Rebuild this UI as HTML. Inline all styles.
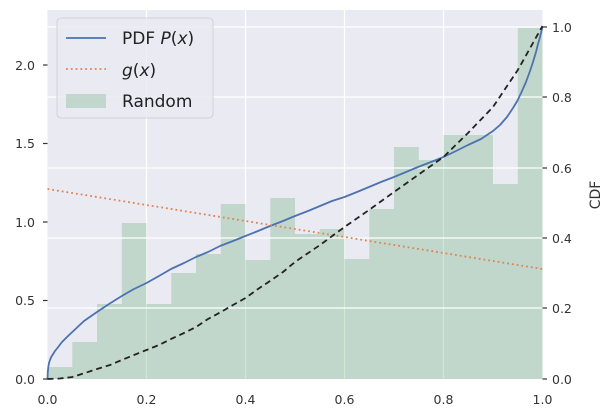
<!DOCTYPE html>
<html><head><meta charset="utf-8"><style>
body{margin:0;background:#fff;}
svg{display:block;font-family:"DejaVu Sans","Liberation Sans",sans-serif;}
</style></head><body>
<svg width="614" height="417" viewBox="0 0 614 417" xmlns="http://www.w3.org/2000/svg">
<rect x="47.5" y="10" width="495" height="369" fill="#eaeaf2"/>
<g stroke="#fff" stroke-width="1.2">
<line x1="146.5" y1="10" x2="146.5" y2="379"/><line x1="245.5" y1="10" x2="245.5" y2="379"/>
<line x1="344.5" y1="10" x2="344.5" y2="379"/><line x1="443.5" y1="10" x2="443.5" y2="379"/>
</g>
<g fill="#55a868" fill-opacity="0.27">
<path d="M47.5,379 V367 H72.3 V342 H97 V304 H121.8 V223 H146.5 V304 H171.3 V273 H196 V254 H220.8 V204 H245.5 V260 H270.3 V198 H295 V234 H319.8 V229 H344.5 V259 H369.3 V209 H394 V147 H418.8 V160 H443.5 V135 H493 V184 H517.8 V28 H542.5 V379 Z"/>
</g>
<g stroke="#fff" stroke-width="1.2">
<line x1="47.5" y1="308" x2="542.5" y2="308"/><line x1="47.5" y1="238" x2="542.5" y2="238"/>
<line x1="47.5" y1="168" x2="542.5" y2="168"/><line x1="47.5" y1="97" x2="542.5" y2="97"/>
<line x1="47.5" y1="27" x2="542.5" y2="27"/>
</g>
<polyline fill="none" stroke="#4c72b0" stroke-width="1.8" stroke-linejoin="round" points="47.5,379 47.8,372 48.3,367 49,363 50,360 51.2,357 52.5,355 55,351 57.4,348 62,342 67,337 72.3,332 84,321 97,312 109,304 121.8,296 134,289 146.5,283 159,276 171,269 184,263 196,257 208,252 220,246 233,241 245.5,236 258,231 270,226 283,221 295,216 308,211 320,206 332,201 344.5,197 357,192 369,187 381,182 394,177 406,172 418,167 431,162 443.5,157 456,151 468,145 481,139 493,131 500,125 507,117 513,108 517.8,100 522,91 526,82 530,71 533,62 536,52 538,44 540,37 541.5,31 542.5,27"/>
<line x1="47.5" y1="189" x2="542.5" y2="269" stroke="#dd8452" stroke-width="1.8" stroke-dasharray="1.8,3"/>
<polyline fill="none" stroke="#222" stroke-width="1.8" stroke-dasharray="6,4" stroke-linejoin="round" points="47.5,379 60,378.5 72.3,377 85,373 97,369 110,365 121.8,360 134,355 146.5,350 159,345 171,339 184,333 196,327 208,319 221,312 233,305 245.5,298 258,289 270,281 283,272 295,262 320,245 344.5,227 369,210 394,192 418,175 443.5,157 468,133 493,107 517.8,70 542.5,26"/>
<g fill="#333" font-size="12.5" text-anchor="end">
<text x="35" y="384">0.0</text><text x="35" y="305">0.5</text><text x="35" y="227">1.0</text>
<text x="35" y="148">1.5</text><text x="35" y="70">2.0</text>
</g>
<g stroke="#333" stroke-width="1.2">
<line x1="542.5" y1="379" x2="547" y2="379"/><line x1="542.5" y1="308" x2="547" y2="308"/>
<line x1="542.5" y1="238" x2="547" y2="238"/><line x1="542.5" y1="168" x2="547" y2="168"/>
<line x1="542.5" y1="97" x2="547" y2="97"/><line x1="542.5" y1="27" x2="547" y2="27"/>
<line x1="43" y1="379" x2="47.5" y2="379"/><line x1="43" y1="300.5" x2="47.5" y2="300.5"/>
<line x1="43" y1="222" x2="47.5" y2="222"/><line x1="43" y1="143.5" x2="47.5" y2="143.5"/>
<line x1="43" y1="65" x2="47.5" y2="65"/>
</g>
<g fill="#333" font-size="12.5">
<text x="552" y="384">0.0</text><text x="552" y="313">0.2</text><text x="552" y="243">0.4</text>
<text x="552" y="173">0.6</text><text x="552" y="102">0.8</text><text x="552" y="32">1.0</text>
</g>
<g fill="#333" font-size="12.5" text-anchor="middle">
<text x="47.5" y="404">0.0</text><text x="146.5" y="404">0.2</text><text x="245.5" y="404">0.4</text>
<text x="344.5" y="404">0.6</text><text x="443.5" y="404">0.8</text><text x="542.5" y="404">1.0</text>
</g>
<text transform="translate(600,195) rotate(-90)" fill="#333" font-size="14" text-anchor="middle">CDF</text>
<rect x="57" y="18" width="156" height="100" rx="4" fill="#eaeaf2" fill-opacity="0.8" stroke="#ccc" stroke-width="0.8"/>
<line x1="66" y1="38" x2="106" y2="38" stroke="#4c72b0" stroke-width="1.8"/>
<line x1="66" y1="69" x2="106" y2="69" stroke="#dd8452" stroke-width="1.8" stroke-dasharray="1.8,3"/>
<rect x="66" y="94" width="40" height="14" fill="#55a868" fill-opacity="0.27"/>
<g fill="#222" font-size="17">
<text x="122" y="44">PDF <tspan font-style="italic">P</tspan>(<tspan font-style="italic">x</tspan>)</text>
<text x="122" y="76"><tspan font-style="italic">g</tspan>(<tspan font-style="italic">x</tspan>)</text>
<text x="122" y="107">Random</text>
</g>
</svg>
</body></html>
